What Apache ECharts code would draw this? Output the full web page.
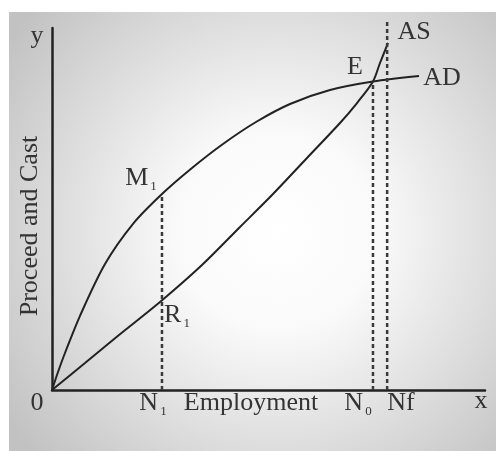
<!DOCTYPE html>
<html>
<head>
<meta charset="utf-8">
<style>
html,body{margin:0;padding:0;background:#fff;}
#main{width:496px;height:451px;}
</style>
</head>
<body>
<div id="main"></div>
<script src="https://cdn.jsdelivr.net/npm/echarts/dist/echarts.min.js"></script>
<script type="text/javascript">
// employment (x) and proceeds/cost (y), 0..100 scale
var adX = [0, 1.39, 3.0, 6.47, 12.24, 18.71, 25.4, 32.33, 39.49, 47.11, 54.97, 64.2, 74.13, 84.76];
var adY = [0, 4.97, 10.22, 20.5, 34.8, 45.9, 54.14, 61.33, 67.96, 74.03, 79.01, 82.87, 85.22, 86.74];
var asX = [0, 7.62, 15.47, 24.94, 34.64, 43.42, 51.04, 58.89, 66.51, 70.44, 74.13, 75.75, 77.6];
var asY = [0, 7.46, 15.19, 24.31, 34.53, 45.03, 54.14, 64.09, 73.76, 79.28, 85.22, 90.33, 95.86];
// dotted guides N1, N0, Nf: x position, top value
var guideX = [25.4, 74.13, 77.4];
var guideTop = [54.14, 85.22, 101.7];

function pairs(xs, ys){
    var out = [];
    for(var i = 0;i<xs.length;i++){
        out.push([xs[i], ys[i]]);
    }
    return out;
}

var myChart = echarts.init(document.getElementById('main'));

var ink = '#222';
var serif = 'Liberation Serif';

function label(x, y, main, sub){
    return {
        type:'text', x:x, y:y, z:10,
        style:{
            text: sub ? '{a|'+main+'}{s|'+sub+'}' : '{a|'+main+'}',
            align:'center',
            verticalAlign:'middle',
            rich:{
                a:{fontFamily:serif, fontSize:26, fill:'#333', verticalAlign:'middle'},
                s:{fontFamily:serif, fontSize:13, fill:'#333', padding:[17,0,0,2]}
            }
        }
    };
}

var series = [
    {
        name:'AD', type:'line', smooth:0.3, showSymbol:false, silent:true,
        data:pairs(adX, adY),
        lineStyle:{color:ink, width:2}
    },
    {
        name:'AS', type:'line', smooth:0.3, showSymbol:false, silent:true,
        data:pairs(asX, asY),
        lineStyle:{color:ink, width:2}
    }
];
for(var i = 0;i<guideX.length;i++){
    series.push({
        type:'line', showSymbol:false, silent:true, clip:false,
        data:[[guideX[i], 0], [guideX[i], guideTop[i]]],
        lineStyle:{color:'#3a3a3a', width:2.5, type:[4,3]}
    });
}

option = {
    animation:false,
    grid:{left:52, top:28, right:11, bottom:61},
    xAxis:{
        type:'value', min:0, max:100,
        axisLine:{show:true, onZero:false, lineStyle:{color:ink, width:2.5}},
        axisTick:{show:false}, axisLabel:{show:false}, splitLine:{show:false}
    },
    yAxis:{
        type:'value', min:0, max:100,
        axisLine:{show:true, onZero:false, lineStyle:{color:ink, width:2.5}},
        axisTick:{show:false}, axisLabel:{show:false}, splitLine:{show:false}
    },
    graphic:[
        {
            type:'rect', z:-100, silent:true,
            shape:{x:9, y:12, width:487, height:439},
            style:{
                fill:new echarts.graphic.RadialGradient(0.55, 0.5, 0.75, [
                    {offset:0, color:'#ffffff'},
                    {offset:0.3, color:'#fafafa'},
                    {offset:1, color:'#c2c2c2'}
                ])
            }
        },
        label(37, 36, 'y'),
        label(37, 403, '0'),
        label(481, 401, 'x'),
        label(153, 403, 'N', '1'),
        label(251, 403, 'Employment'),
        label(358, 403, 'N', '0'),
        label(401, 403, 'Nf'),
        label(141, 178, 'M', '1'),
        label(177, 315, 'R', '1'),
        label(355, 67, 'E'),
        label(414, 32, 'AS'),
        label(442, 78, 'AD'),
        {
            type:'text', x:30, y:226, rotation:Math.PI/2, z:10,
            style:{
                text:'Proceed and Cast', align:'center', verticalAlign:'middle',
                fill:'#333', font:'26px "Liberation Serif"'
            }
        }
    ],
    series:series
};

myChart.setOption(option);
</script>
</body>
</html>
